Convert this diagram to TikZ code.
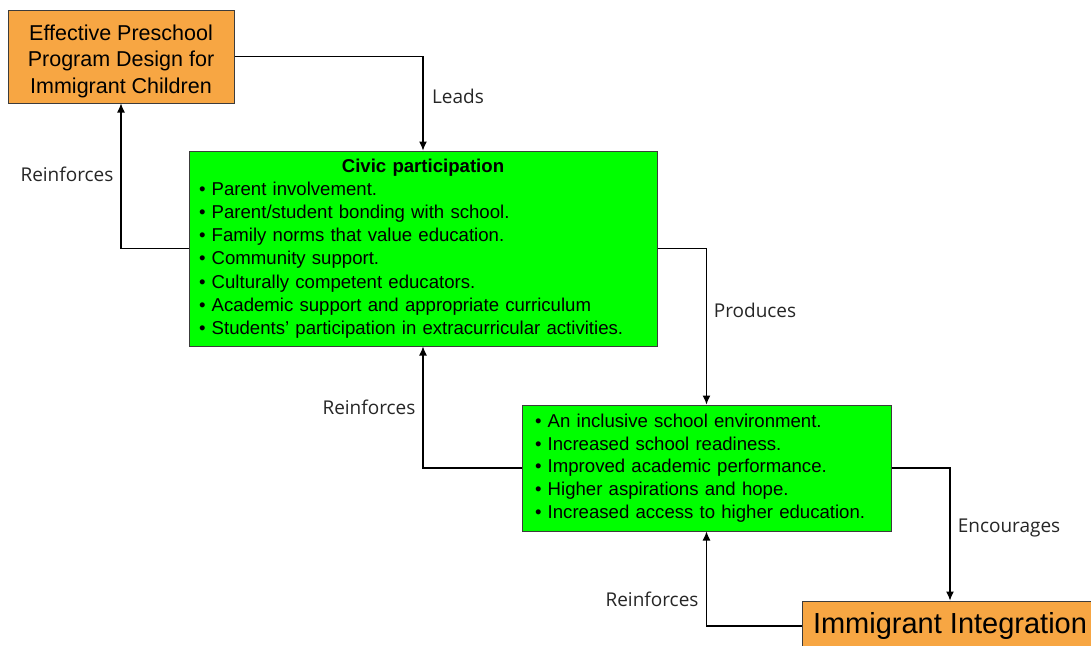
\documentclass[tikz,border=0pt]{standalone}
\usepackage{fontspec}
\setmainfont{Liberation Sans}
\newfontfamily\lblfont{Open Sans}
\usetikzlibrary{arrows.meta}
\definecolor{boxorange}{RGB}{247,166,67}
\definecolor{boxgreen}{RGB}{0,255,0}
\definecolor{boxline}{RGB}{60,60,60}
\begin{document}
\begin{tikzpicture}[x=1pt,y=-1pt,
    orangebox/.style={draw=boxline,fill=boxorange,line width=1pt,inner sep=0pt},
    greenbox/.style={draw=boxline,fill=boxgreen,line width=1pt,inner sep=0pt,align=left},
    lbl/.style={font=\lblfont\fontsize{19}{22}\selectfont,text=black!85},
    conn/.style={-{Latex[length=9pt,width=8pt]},line width=1.1pt}]
        \useasboundingbox (0,0) rectangle (1091,645);
        \node[orangebox,minimum width=226pt,minimum height=93pt,align=center,font=\fontsize{21.5}{26.5}\selectfont] (design) at (121,56.5) {\rule{0pt}{25pt}Effective Preschool\\Program Design for\\Immigrant Children};
        \node[greenbox,minimum width=468pt,minimum height=195pt,text width=448pt,font=\fontsize{18.6}{23.2}\selectfont] (civic) at (423,248.5) {\centering\textbf{Civic participation}\par\raggedright
          • Parent involvement.\\
          • Parent/student bonding with school.\\
          • Family norms that value education.\\
          • Community support.\\
          • Culturally competent educators.\\
          • Academic support and appropriate curriculum\\
          • Students’ participation in extracurricular activities.};
        \node[greenbox,minimum width=369pt,minimum height=126pt,text width=343pt,font=\fontsize{18.6}{22.8}\selectfont] (outcomes) at (706.5,468) {• An inclusive school environment.\\
          • Increased school readiness.\\
          • Improved academic performance.\\
          • Higher aspirations and hope.\\
          • Increased access to higher education.};
        \node[orangebox,minimum width=296pt,minimum height=50pt,font=\fontsize{29}{35}\selectfont] (integ) at (950,626) {\raisebox{1pt}{Immigrant Integration}};
        \node[lbl] (leads) at (458,96) {Leads};
        \node[lbl] (reinf1) at (67,174) {Reinforces};
        \node[lbl] (produces) at (755,310) {Produces};
        \node[lbl] (reinf2) at (369,407) {Reinforces};
        \node[lbl] (encourages) at (1009,528) {Encourages};
        \node[lbl] (reinf3) at (652,599) {Reinforces};
        \draw[conn] (design.east) -| (civic.north);
        \draw[conn] (civic.west) -| (design.south);
        \draw[conn] (civic.east) -| (outcomes.north);
        \draw[conn] (outcomes.west) -| (civic.south);
        \draw[conn] (outcomes.east) -| (integ.north);
        \draw[conn] (integ.west) -| (outcomes.south);
      \end{tikzpicture}
\end{document}
